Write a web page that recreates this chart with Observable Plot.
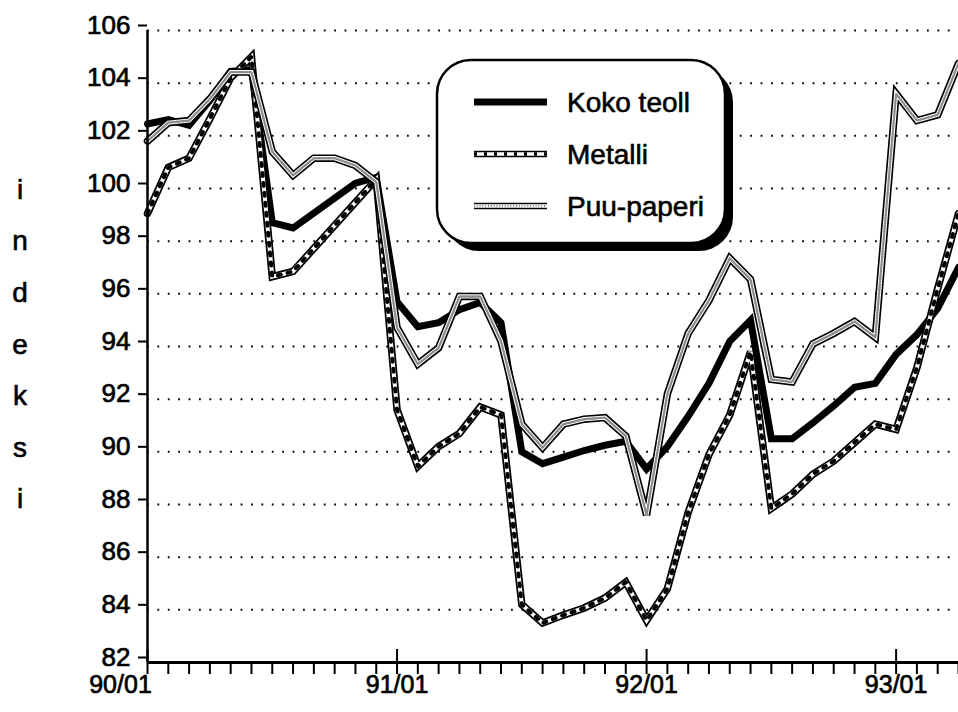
<!DOCTYPE html>
<html><head><meta charset="utf-8">
<script src="https://cdn.jsdelivr.net/npm/d3@7"></script>
<script src="https://cdn.jsdelivr.net/npm/@observablehq/plot@0.6"></script>
<style>body{margin:0;background:#fff;}</style>
</head><body><div id="chart"></div>
<script>
// Months 90/01 .. 93/04 (index 0..39)
const months = ["90/01","90/02","90/03","90/04","90/05","90/06","90/07","90/08","90/09","90/10","90/11","90/12",
  "91/01","91/02","91/03","91/04","91/05","91/06","91/07","91/08","91/09","91/10","91/11","91/12",
  "92/01","92/02","92/03","92/04","92/05","92/06","92/07","92/08","92/09","92/10","92/11","92/12",
  "93/01","93/02","93/03","93/04"];
const seriesNames = ["Koko teoll","Metalli","Puu-paperi"];
const koko = [102.45,102.62,102.4,103.35,104.45,104.5,98.7,98.5,null,null,100.2,100.42,
  95.7,94.75,94.9,95.4,95.67,94.9,90.0,89.55,89.8,90.05,90.25,90.4,
  89.35,90.2,91.35,92.6,94.2,95.0,90.5,90.5,91.1,91.75,92.45,92.6,
  93.7,94.45,95.45,97.0];
const metalli = [99.05,100.8,101.15,102.65,104.2,105.0,96.65,96.85,null,null,null,100.35,
  91.6,89.45,90.2,90.7,91.7,91.4,84.2,83.5,83.8,84.07,84.45,85.05,
  83.6,84.8,87.7,89.9,91.4,93.8,87.85,88.4,89.15,89.65,90.35,91.05,
  90.85,93.2,96.2,99.05];
const puu = [101.8,102.5,102.58,103.4,104.42,104.42,101.4,100.5,101.15,101.15,100.87,100.25,
  94.72,93.33,93.95,95.9,95.9,94.2,91.05,90.16,91.05,91.24,91.3,90.6,
  87.6,92.2,94.5,95.75,97.35,96.55,92.75,92.65,94.1,94.5,94.95,94.35,
  103.6,102.58,102.8,104.75];
const yTicks = [82,84,86,88,90,92,94,96,98,100,102,104,106];
const gridValues = [84,86,88,90,92,94,96,98,100,102,104,106];
const majorTicks = [0,12,24,36];
const xTickLabels = ["90/01","91/01","92/01","93/01"];
const axisTitle = "indeksi";

const FONT = "'Liberation Sans', Arial, Helvetica, sans-serif";
const TXT = {fill:"#000", stroke:"#000", strokeWidth:0.7};
const mk = vals => vals.map((v,i)=>({i, v})).filter(d=>d.v!=null);
const K = mk(koko), M = mk(metalli), P = mk(puu);
const minorTicks = months.map((m,i)=>i);
const xLabels = majorTicks.map((t,k)=>({i:t, label:xTickLabels[k]}));
const lo = {x:"i", y:"v", strokeLinejoin:"miter", strokeMiterlimit:3, curve:"linear"};

const chart = Plot.plot({
  width:958, height:712,
  marginLeft:147, marginRight:0, marginTop:30, marginBottom:50,
  x:{domain:[0,39], axis:null},
  y:{domain:[82,106], axis:null},
  style:{fontFamily:FONT, color:"#000", background:"#fff", overflow:"visible"},
  marks:[
    Plot.ruleY(gridValues, {stroke:"#000", strokeWidth:2, strokeDasharray:"1.8,8.6"}),
    Plot.axisY({ticks:yTicks, tickSize:9, tickPadding:8, fontSize:26, dy:-5, strokeWidth:2, label:null, tickFormat:d=>String(d)}),
    Plot.axisX({ticks:minorTicks, tickSize:12, tickFormat:()=>"", strokeWidth:2, label:null}),
    Plot.axisX({ticks:majorTicks, tickSize:-13, tickFormat:()=>"", strokeWidth:2, label:null}),
    Plot.text(xLabels.slice(1), {x:"i", text:"label", frameAnchor:"bottom", dy:30, fontSize:25, ...TXT}),
    Plot.text(xLabels.slice(0,1), {x:"i", text:"label", frameAnchor:"bottom", dy:30, dx:-27, fontSize:25, ...TXT}),
    // Koko teoll
    Plot.line(K, {...lo, stroke:"#000", strokeWidth:7}),
    // Metalli
    Plot.line(M, {...lo, stroke:"#000", strokeWidth:7.5}),
    Plot.line(M, {...lo, stroke:"#fff", strokeWidth:4}),
    Plot.line(M, {...lo, stroke:"#000", strokeWidth:4, strokeDasharray:"3,7", strokeLinejoin:"round"}),
    // Puu-paperi
    Plot.line(P, {...lo, stroke:"#000", strokeWidth:7.5}),
    Plot.line(P, {...lo, stroke:"#fff", strokeWidth:4.2}),
    Plot.line(P, {...lo, stroke:"#8a8a8a", strokeWidth:2.4, strokeDasharray:"1,1.8", strokeLinejoin:"round"}),
    Plot.ruleX([0], {stroke:"#000", strokeWidth:2.5}),
    Plot.ruleY([82], {stroke:"#000", strokeWidth:3})
  ]
});
document.getElementById("chart").appendChild(chart);

const svg = d3.select(chart);
// heavier tick label strokes like the scan
svg.selectAll("g[aria-label='y-axis tick label'] text").attr("fill","#000").attr("stroke","#000").attr("stroke-width",0.7);
// vertical axis title
const t = svg.append("g").attr("font-family", FONT).attr("font-size", 28).attr("text-anchor","middle")
  .attr("fill","#000").attr("stroke","#000").attr("stroke-width",0.6);
axisTitle.split("").forEach((ch,k)=>{
  t.append("text").attr("x",20).attr("y",189 + k*51.6).attr("dy","0.35em").text(ch);
});
// legend
const lg = svg.append("g");
lg.append("rect").attr("x",445).attr("y",68).attr("width",288).attr("height",183).attr("rx",34).attr("fill","#000");
lg.append("rect").attr("x",437).attr("y",60).attr("width",288).attr("height",183).attr("rx",34)
  .attr("fill","#fff").attr("stroke","#000").attr("stroke-width",2.5);
const styles = [
  [{s:"#000", w:7}],
  [{s:"#000", w:6.5}, {s:"#fff", w:3.5}, {s:"#000", w:3.5, d:"3,7"}],
  [{s:"#000", w:6.5}, {s:"#fff", w:3.5}, {s:"#8a8a8a", w:2.2, d:"1,1.8"}]
];
seriesNames.forEach((name,k)=>{
  const y = 102 + k*52;
  styles[k].forEach(st=>{
    lg.append("line").attr("x1",474).attr("x2",547).attr("y1",y).attr("y2",y)
      .attr("stroke",st.s).attr("stroke-width",st.w).attr("stroke-dasharray",st.d||null);
  });
  lg.append("text").attr("x",567).attr("y",y).attr("dy","0.35em").attr("text-anchor","start")
    .attr("font-family",FONT).attr("font-size",28).attr("fill","#000").attr("stroke","#000").attr("stroke-width",0.6).text(name);
});
</script>
</body></html>
